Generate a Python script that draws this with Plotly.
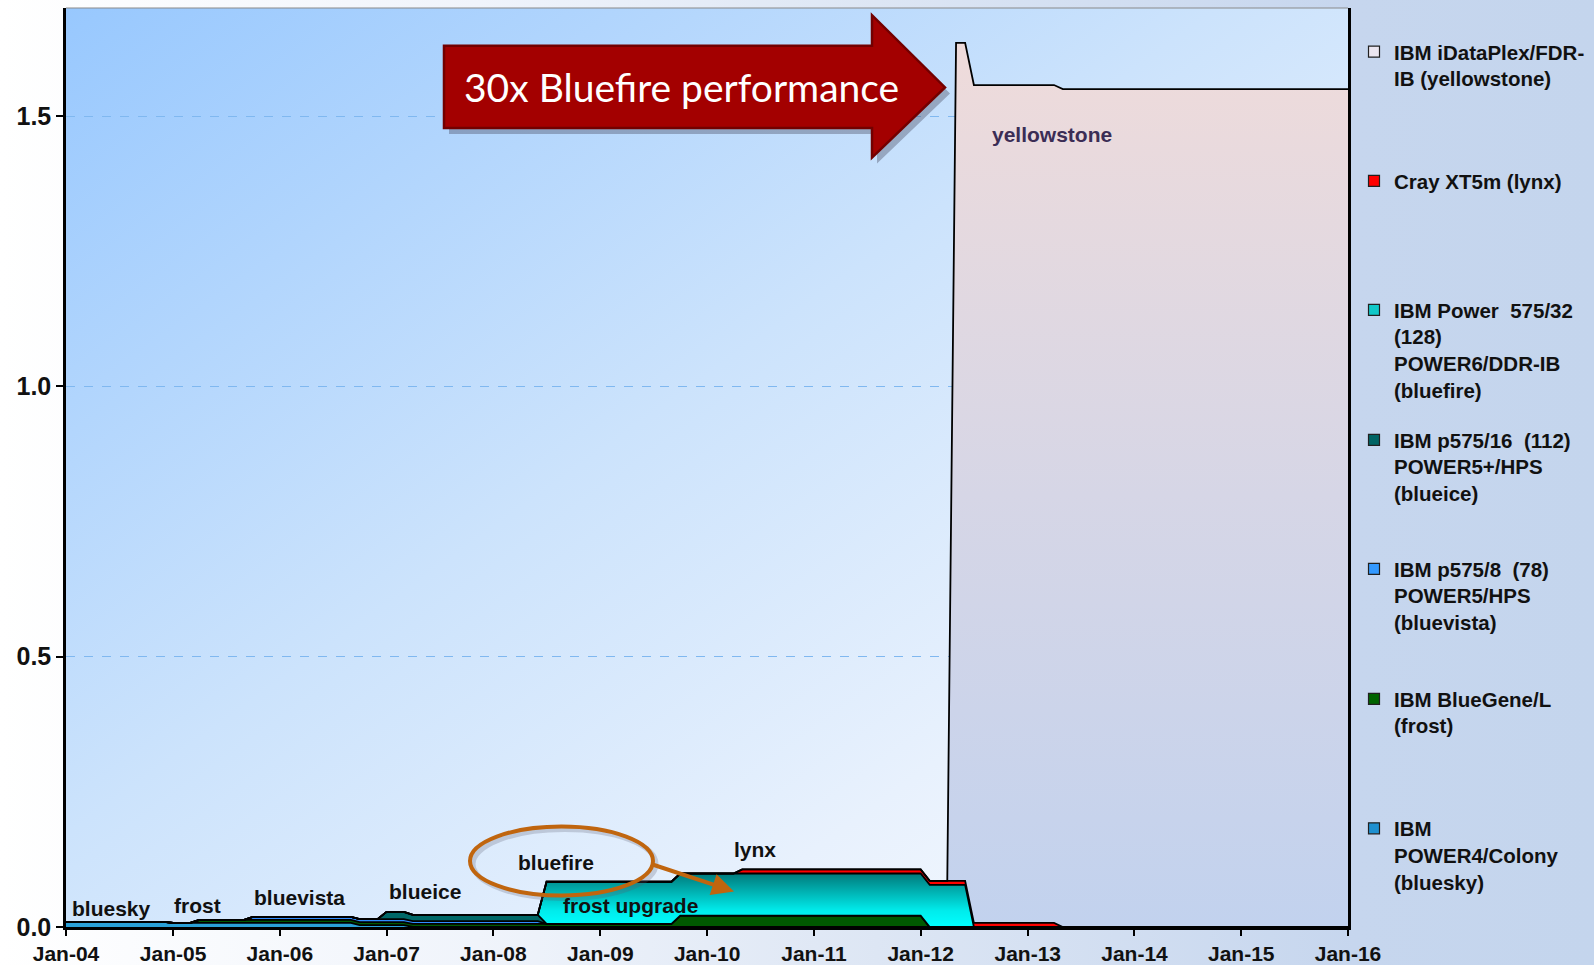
import base64
import plotly.graph_objects as go

# ---------------- data (peak PFLOPs) ----------------
bluesky_dates = ["2004-01-01", "2004-12-01", "2005-01-01", "2006-09-01", "2006-10-01", "2007-03-01", "2007-04-01"]
bluesky_vals = [0.0095, 0.0095, 0.0075, 0.0075, 0.0035, 0.0035, 0.0]

frost_dates = ["2005-03-01", "2005-04-01", "2009-09-01", "2009-10-01", "2012-01-01", "2012-02-01"]
frost_vals = [0.0, 0.0057, 0.0057, 0.021, 0.021, 0.0]

bluevista_dates = ["2005-09-01", "2005-10-01", "2008-06-01", "2008-07-01"]
bluevista_vals = [0.0, 0.0053, 0.0053, 0.0]

blueice_dates = ["2006-12-01", "2007-01-01", "2007-03-01", "2007-04-01", "2008-06-01", "2008-07-01"]
blueice_vals = [0.0, 0.0135, 0.0135, 0.0115, 0.0115, 0.0]

bluefire_dates = ["2008-06-01", "2008-07-01", "2012-06-01", "2012-07-01"]
bluefire_vals = [0.0, 0.078, 0.078, 0.0]

lynx_dates = ["2010-04-01", "2010-05-01", "2013-04-01", "2013-05-01"]
lynx_vals = [0.0, 0.0075, 0.0075, 0.0]

yellowstone_dates = ["2004-01-01", "2012-04-01", "2012-05-01", "2016-01-01"]
yellowstone_vals = [0.0, 0.0, 1.55, 1.55]

legend_names = [
    "IBM iDataPlex/FDR-<br>IB (yellowstone)",
    "Cray XT5m (lynx)",
    "IBM Power  575/32<br>(128)<br>POWER6/DDR-IB<br>(bluefire)",
    "IBM p575/16  (112)<br>POWER5+/HPS<br>(blueice)",
    "IBM p575/8  (78)<br>POWER5/HPS<br>(bluevista)",
    "IBM BlueGene/L<br>(frost)",
    "IBM<br>POWER4/Colony<br>(bluesky)",
]
legend_colors = ["#ebe6f0", "#ff0000", "#10c8c8", "#006464", "#3399ff", "#006400", "#1e90d0"]

x_tick_vals = ["2004-01-01", "2005-01-01", "2006-01-01", "2007-01-01", "2008-01-01", "2009-01-01",
               "2010-01-01", "2011-01-01", "2012-01-01", "2013-01-01", "2014-01-01", "2015-01-01", "2016-01-01"]
y_tick_vals = [0.0, 0.5, 1.0, 1.5]

# ---------------- geometry helpers ----------------
W, H = 1594, 965
L, R, T, B = 66, 1348, 8, 927   # plot area in pixels
PW, PH = R - L, B - T


def px(xp):
    return (xp - L) / PW


def py(yp):
    return (B - yp) / PH


def svg_uri(x2, y2, stops):
    st = "".join(f'<stop offset="{o}" stop-color="{c}"/>' for o, c in stops)
    svg = ('<svg xmlns="http://www.w3.org/2000/svg" width="200" height="200" viewBox="0 0 200 200" '
           'preserveAspectRatio="none"><defs><linearGradient id="g" x1="0" y1="0" '
           f'x2="{x2}" y2="{y2}">{st}</linearGradient></defs>'
           '<rect x="0" y="0" width="200" height="200" fill="url(#g)"/></svg>')
    return "data:image/svg+xml;base64," + base64.b64encode(svg.encode()).decode()


FONT = "Liberation Sans, Arial, sans-serif"
fig = go.Figure()

series = [
    ("bluesky", bluesky_dates, bluesky_vals, dict(fillcolor="#2aa0d8")),
    ("frost", frost_dates, frost_vals, dict(fillcolor="#005800")),
    ("bluevista", bluevista_dates, bluevista_vals, dict(fillcolor="#2f8cff")),
    ("blueice", blueice_dates, blueice_vals, dict(fillcolor="#006868")),
    ("bluefire", bluefire_dates, bluefire_vals,
     dict(fillgradient=dict(type="vertical", colorscale=[[0, "#00ffff"], [0.3, "#00ecec"], [1, "#007879"]],
                            start=0.0, stop=0.1))),
    ("lynx", lynx_dates, lynx_vals, dict(fillcolor="#ff0000")),
    ("yellowstone", yellowstone_dates, yellowstone_vals,
     dict(fillgradient=dict(type="vertical", colorscale=[[0, "#c2d2ee"], [0.5, "#d6d6e6"], [1, "#eedbdb"]],
                            start=0.0, stop=1.6))),
]

for name, d, v, fillkw in series:
    fig.add_trace(go.Scatter(
        x=d, y=v, name=name, mode="lines", stackgroup="one", stackgaps="interpolate",
        line=dict(color="black", width=1.8), showlegend=False, hoverinfo="skip", **fillkw))

# legend entries (one small legend per entry to reproduce the spacing)
first_line_centers = [51.8, 181, 310, 440, 569, 699, 828.5]
legend_layouts = {}
for i, (nm, col, cy) in enumerate(zip(legend_names, legend_colors, first_line_centers)):
    key = "legend" if i == 0 else f"legend{i + 1}"
    fig.add_trace(go.Scatter(
        x=[None], y=[None], mode="markers", name=nm, legend=key, showlegend=True,
        marker=dict(symbol="square", size=11, color=col, line=dict(color="#202020", width=1.2))))
    legend_layouts[key] = dict(
        x=px(1354), xanchor="left", y=py(cy - 20), yanchor="top", valign="top",
        bgcolor="rgba(0,0,0,0)", borderwidth=0, itemclick=False, itemdoubleclick=False,
        font=dict(family=FONT, size=20.5, color="#111111", weight="bold"))

# labels inside plot
labels = [
    ("bluesky", 111, 908, "#111111"),
    ("frost", 197, 905, "#111111"),
    ("bluevista", 299.5, 897.6, "#111111"),
    ("blueice", 425, 891.6, "#111111"),
    ("bluefire", 556, 862, "#111111"),
    ("frost upgrade", 630, 905.8, "#111111"),
    ("lynx", 755, 849, "#111111"),
    ("yellowstone", 1051.7, 134, "#3b2d55"),
]
annotations = []
for txt, xx, yy, col in labels:
    annotations.append(dict(text=txt, x=px(xx), y=py(yy), xref="paper", yref="paper", showarrow=False,
                            xanchor="center", yanchor="middle",
                            font=dict(family=FONT, size=21, color=col, weight="bold")))

annotations.append(dict(text="30x Bluefire performance", x=px(681), y=py(87.4), xref="paper", yref="paper",
                        showarrow=False, xanchor="center", yanchor="middle",
                        font=dict(family="Lato, Open Sans, sans-serif", size=39, color="white")))

# orange arrow from the ellipse
annotations.append(dict(text="", x=px(734), y=py(891.5), xref="paper", yref="paper", showarrow=True,
                        ax=651 - 734, ay=864 - 891.5, arrowcolor="#c0650e", arrowwidth=4,
                        arrowhead=2, arrowsize=1.1, standoff=0))

# big block arrow
pts = [(444, 45.7), (872, 45.7), (872, 15.2), (945, 87.4), (872, 157.6), (872, 128), (444, 128)]


def path_from(points, dx=0, dy=0):
    s = "M " + " L ".join(f"{px(x + dx):.5f},{py(y + dy):.5f}" for x, y in points) + " Z"
    return s


shapes = [
    dict(type="path", xref="paper", yref="paper", path=path_from(pts, 5, 6),
         fillcolor="rgba(60,60,80,0.35)", line=dict(width=0), layer="above"),
    dict(type="path", xref="paper", yref="paper", path=path_from(pts),
         fillcolor="#a30000", line=dict(color="#730000", width=2.5), layer="above"),
    # ellipse shadow + ellipse
    dict(type="circle", xref="paper", yref="paper", x0=px(473), x1=px(656), y0=py(898.6), y1=py(829.5),
         line=dict(color="rgba(90,90,110,0.25)", width=5), layer="above"),
    dict(type="circle", xref="paper", yref="paper", x0=px(470), x1=px(653), y0=py(895.6), y1=py(826.5),
         line=dict(color="#c0650e", width=4), layer="above"),
    # top border of plot area
    dict(type="line", xref="paper", yref="paper", x0=0, x1=1, y0=1, y1=1,
         line=dict(color="#8a8a8a", width=1.2)),
]

images = [
    dict(source=svg_uri(1, 0, [(0, "#ffffff"), (0.3, "#f0f4fb"), (0.55, "#dde6f4"), (0.85, "#c6d6ee"), (1, "#c4d5ed")]),
         xref="paper", yref="paper", x=-L / PW, y=B / PH, sizex=W / PW, sizey=H / PH,
         xanchor="left", yanchor="top", sizing="stretch", layer="below"),
    dict(source=svg_uri(1, 1, [(0, "#98c8fe"), (0.45, "#cce3fc"), (0.75, "#e8f1fd"), (1, "#fafcff")]),
         xref="paper", yref="paper", x=0, y=1, sizex=1, sizey=1,
         xanchor="left", yanchor="top", sizing="stretch", layer="below"),
]

fig.update_layout(
    width=W, height=H,
    margin=dict(l=L, r=W - R, t=T, b=H - B, autoexpand=False),
    paper_bgcolor="#ffffff", plot_bgcolor="rgba(0,0,0,0)",
    font=dict(family=FONT, color="#111111"),
    showlegend=True,
    annotations=annotations, shapes=shapes, images=images,
    **legend_layouts,
)

fig.update_xaxes(
    type="date", range=["2004-01-01", "2016-01-01"], tickvals=x_tick_vals, tickformat="%b-%y",
    ticks="outside", ticklen=6, tickwidth=1.5, tickcolor="black",
    showline=True, linecolor="black", linewidth=2.5, showgrid=False, zeroline=False,
    tickfont=dict(family=FONT, size=21, color="#111111", weight="bold"),
)
fig.update_yaxes(
    range=[0, 1.70], tickvals=y_tick_vals, tickformat=".1f",
    ticks="outside", ticklen=7, tickwidth=1.5, tickcolor="black",
    showline=True, linecolor="black", linewidth=2.5, mirror=True,
    showgrid=True, gridcolor="#80b8f0", griddash="dash", gridwidth=1, zeroline=False,
    tickfont=dict(family=FONT, size=25, color="#111111", weight="bold"),
)

fig.write_html("out.html", config={"displayModeBar": False},
               post_script="document.body.style.margin='0px';document.body.style.overflow='hidden';")
